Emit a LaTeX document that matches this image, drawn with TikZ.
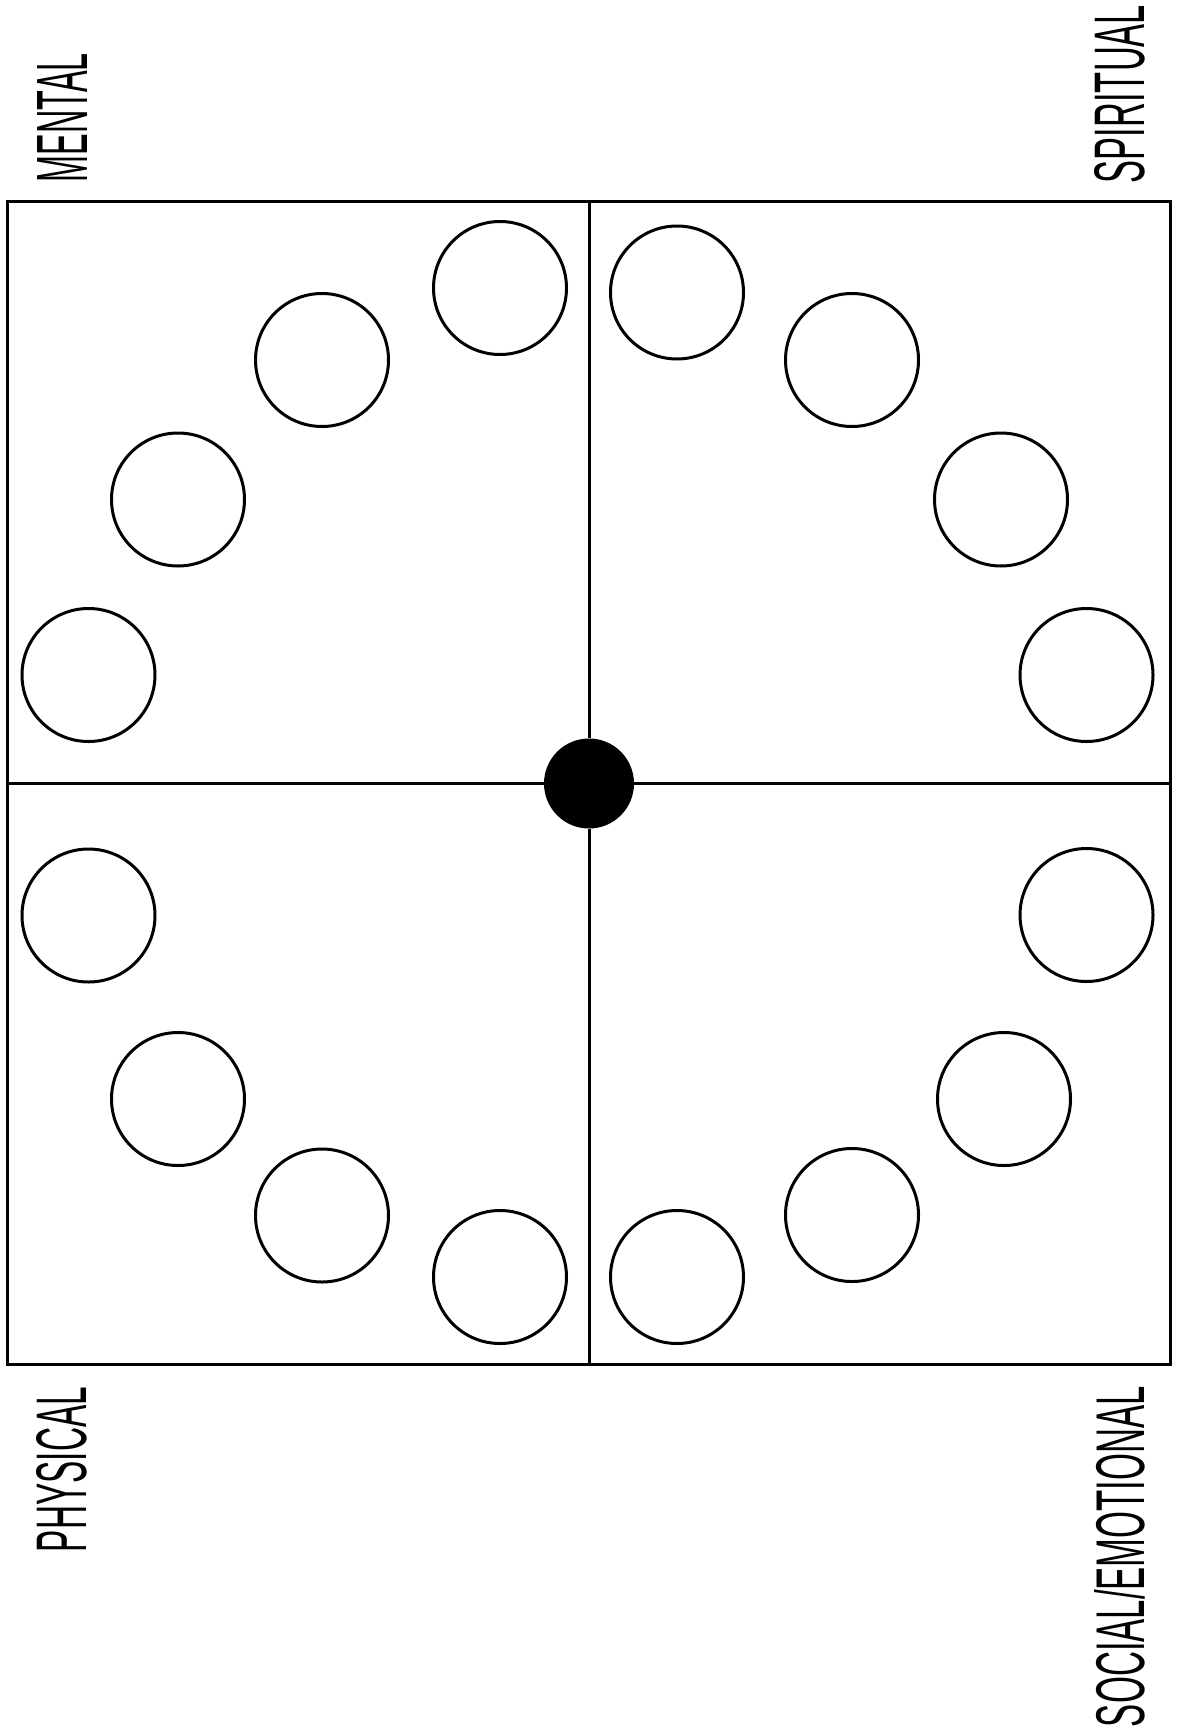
\documentclass[tikz,border=0pt]{standalone}
\usepackage{fontspec}
\setmainfont{Liberation Sans}
\usepackage{graphicx}
\begin{document}
\begin{tikzpicture}[x=1pt,y=-1pt,
  ring/.style={circle,draw=black,line width=3pt,minimum size=133pt,inner sep=0pt,fill=white},
  hub/.style={circle,fill=black,minimum size=90pt,inner sep=0pt},
  frameline/.style={line width=3pt,draw=black},
  label/.style={rotate=90,inner sep=0pt,anchor=center}]
\fill[white] (0,0) rectangle (1177,1734);
\useasboundingbox (0,0) rectangle (1177,1734);

% frame and dividers
\coordinate (tl) at (7,201);
\coordinate (br) at (1170,1364);
\coordinate (topmid) at (589,201);
\coordinate (botmid) at (589,1364);
\coordinate (leftmid) at (7,783.5);
\coordinate (rightmid) at (1170,783.5);
\draw[frameline] (tl) rectangle (br);
\node[hub] (hub) at (589,783.5) {};
\draw[frameline] (topmid) -- (hub);
\draw[frameline] (hub) -- (botmid);
\draw[frameline] (leftmid) -- (hub);
\draw[frameline] (hub) -- (rightmid);

% top-left
\node[ring] (m1) at (500,288) {};
\node[ring] (m2) at (322,360) {};
\node[ring] (m3) at (178,499.5) {};
\node[ring] (m4) at (88.5,675) {};
% top-right
\node[ring] (s1) at (677,292.5) {};
\node[ring] (s2) at (852,360) {};
\node[ring] (s3) at (1001,499.5) {};
\node[ring] (s4) at (1086.5,675) {};
% bottom-left
\node[ring] (p1) at (88.5,915.5) {};
\node[ring] (p2) at (178,1099) {};
\node[ring] (p3) at (322,1215.5) {};
\node[ring] (p4) at (500,1277) {};
% bottom-right
\node[ring] (e1) at (1086.5,915) {};
\node[ring] (e2) at (1004,1099) {};
\node[ring] (e3) at (852,1215) {};
\node[ring] (e4) at (677,1277) {};

% labels
\node[label] (mental) at (62,117.5) {\resizebox{129pt}{50pt}{MENTAL}};
\node[label] (spiritual) at (1120,94) {\resizebox{178pt}{50pt}{SPIRITUAL}};
\node[label] (physical) at (62,1469.5) {\resizebox{165pt}{50pt}{PHYSICAL}};
\node[label] (social) at (1119.5,1556.5) {\resizebox{341pt}{50pt}{\raisebox{0pt}[\height][0pt]{SOCIAL/EMOTIONAL}}};
\end{tikzpicture}
\end{document}
